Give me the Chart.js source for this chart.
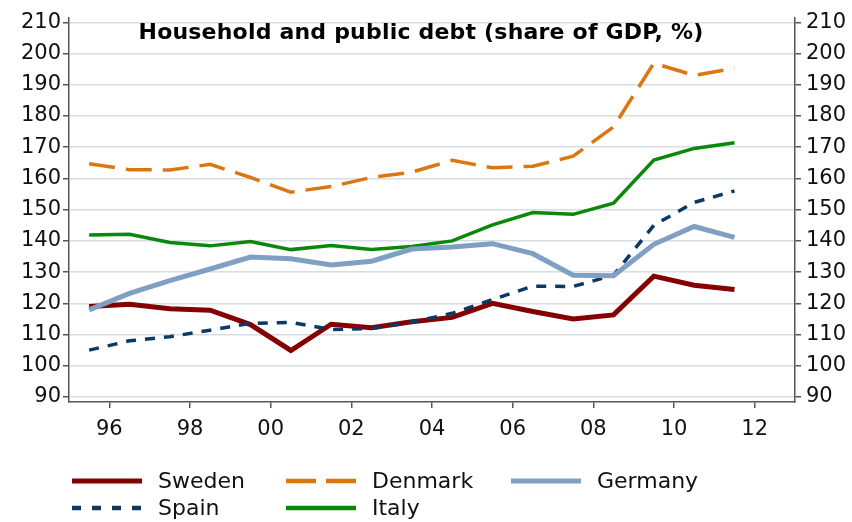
<!DOCTYPE html>
<html>
<head>
<meta charset="utf-8">
<script src="https://cdn.jsdelivr.net/npm/chart.js@4.4.0/dist/chart.umd.min.js"></script>
<style>
  body { margin: 0; background: #fff; }
  #wrap { position: relative; width: 852px; height: 522px; }
  #title { position: absolute; left: 0; width: 842px; top: 19px; text-align: center;
    font: bold 22px "DejaVu Sans", sans-serif; line-height: 26px; color: #000; letter-spacing: 0.2px; }
  .leg { position: absolute; font: 22px "DejaVu Sans", sans-serif; color: #111; line-height: 26px; }
  .leg svg { position: absolute; left: 0; top: 0; }
  .leg span { position: absolute; left: 86px; top: 0; white-space: nowrap; }
</style>
</head>
<body>
<div id="wrap">
  <canvas id="mycanvas" width="852" height="522"></canvas>
  <div id="title">Household and public debt (share of GDP, %)</div>
  <div id="legend"></div>
</div>
<script>
// annual data, plotted mid-year
var years = [1995, 1996, 1997, 1998, 1999, 2000, 2001, 2002, 2003, 2004, 2005, 2006, 2007, 2008, 2009, 2010, 2011];
var sweden  = [119.0, 119.7, 118.3, 117.8, 113.2, 104.9, 113.3, 112.2, 114.1, 115.5, 120.0, 117.4, 115.0, 116.3, 128.7, 125.8, 124.4];
var denmark = [164.7, 162.8, 162.7, 164.5, 160.3, 155.6, 157.4, 160.3, 162.0, 165.8, 163.4, 163.9, 167.1, 176.5, 196.9, 193.0, 195.3];
var germany = [117.9, 123.2, 127.3, 131.0, 134.8, 134.3, 132.3, 133.5, 137.4, 138.0, 139.1, 135.9, 129.0, 128.8, 138.9, 144.6, 141.1];
var spain   = [105.0, 108.0, 109.3, 111.4, 113.6, 113.9, 111.6, 111.9, 114.0, 116.8, 121.2, 125.5, 125.4, 129.0, 145.0, 152.3, 156.0];
var italy   = [141.9, 142.1, 139.5, 138.4, 139.8, 137.2, 138.5, 137.2, 138.2, 140.0, 145.1, 149.1, 148.5, 152.1, 165.9, 169.6, 171.4];
var xTicks = [1996, 1998, 2000, 2002, 2004, 2006, 2008, 2010, 2012];
var yTicks = [90, 100, 110, 120, 130, 140, 150, 160, 170, 180, 190, 200, 210];

function pts(arr) {
  return arr.map(function(v, i) { return { x: years[i] + 0.5, y: v }; });
}

var series = [
  { label: "Sweden",  data: sweden,  color: "#850000", width: 5,   dash: [],       legDash: "" },
  { label: "Denmark", data: denmark, color: "#dc7610", width: 3.5, dash: [26, 11], legDash: "30 10" },
  { label: "Germany", data: germany, color: "#7f9fc3", width: 5,   dash: [],       legDash: "" },
  { label: "Spain",   data: spain,   color: "#0c3866", width: 3.5, dash: [10, 9],  legDash: "9 11" },
  { label: "Italy",   data: italy,   color: "#0a880a", width: 3.5, dash: [],       legDash: "" }
];

var datasets = series.map(function(s) {
  return {
    label: s.label,
    data: pts(s.data),
    borderColor: s.color,
    backgroundColor: s.color,
    borderWidth: s.width,
    borderDash: s.dash,
    pointRadius: 0,
    tension: 0,
    yAxisID: "y"
  };
});
// draw order: Germany under the rest
datasets = [datasets[2], datasets[1], datasets[4], datasets[3], datasets[0]];

var axisColor = "#555555";
var tickFont = { family: "DejaVu Sans", size: 21 };

var ctx = document.getElementById("mycanvas");
var chart = new Chart(ctx, {
  type: "line",
  data: { datasets: datasets },
  options: {
    responsive: false,
    animation: false,
    layout: { padding: { top: 16, bottom: 80, left: 0, right: 0 } },
    plugins: { legend: { display: false }, tooltip: { enabled: false } },
    scales: {
      x: {
        type: "linear",
        min: 1995, max: 2013,
        grid: { drawOnChartArea: false, drawTicks: true, tickLength: 6, tickColor: axisColor, lineWidth: 1.5 },
        border: { display: true, color: axisColor, width: 1.5 },
        afterBuildTicks: function(scale) { scale.ticks = xTicks.map(function(v) { return { value: v }; }); },
        afterFit: function(scale) { scale.height = 40; },
        ticks: {
          color: "#111", font: tickFont, padding: 9, maxRotation: 0, autoSkip: false,
          callback: function(v) { return String(v % 100).padStart(2, "0"); }
        }
      },
      y: {
        position: "left",
        min: 88.4, max: 211.5,
        grid: { color: "#d6dde4", lineWidth: 1.5, drawTicks: true, tickLength: 6, tickColor: axisColor },
        border: { display: true, color: axisColor, width: 1.5 },
        afterBuildTicks: function(scale) { scale.ticks = yTicks.map(function(v) { return { value: v }; }); },
        afterFit: function(scale) { scale.width = 69; },
        ticks: { color: "#111", font: tickFont, padding: 2 }
      },
      y2: {
        position: "right",
        min: 88.4, max: 211.5,
        grid: { drawOnChartArea: false, drawTicks: true, tickLength: 6, tickColor: axisColor, lineWidth: 1.5 },
        border: { display: true, color: axisColor, width: 1.5 },
        afterBuildTicks: function(scale) { scale.ticks = yTicks.map(function(v) { return { value: v }; }); },
        afterFit: function(scale) { scale.width = 57; },
        ticks: { color: "#111", font: tickFont, padding: 5 }
      }
    }
  }
});

// legend laid out in fixed columns like the original
var legPos = [
  { x: 72,  y: 468 }, { x: 286, y: 468 }, { x: 511, y: 468 },
  { x: 72,  y: 495 }, { x: 286, y: 495 }
];
var legOrder = ["Sweden", "Denmark", "Germany", "Spain", "Italy"];
var legend = document.getElementById("legend");
legOrder.forEach(function(name, i) {
  var s = series.filter(function(d) { return d.label === name; })[0];
  var el = document.createElement("div");
  el.className = "leg";
  el.style.left = legPos[i].x + "px";
  el.style.top = legPos[i].y + "px";
  el.innerHTML = '<svg width="72" height="26"><line x1="0" y1="13" x2="70" y2="13" stroke="' + s.color +
    '" stroke-width="' + (s.width === 5 ? 5 : 4.5) + '"' + (s.legDash ? ' stroke-dasharray="' + s.legDash + '"' : '') +
    '/></svg><span>' + s.label + '</span>';
  legend.appendChild(el);
});
</script>
</body>
</html>
